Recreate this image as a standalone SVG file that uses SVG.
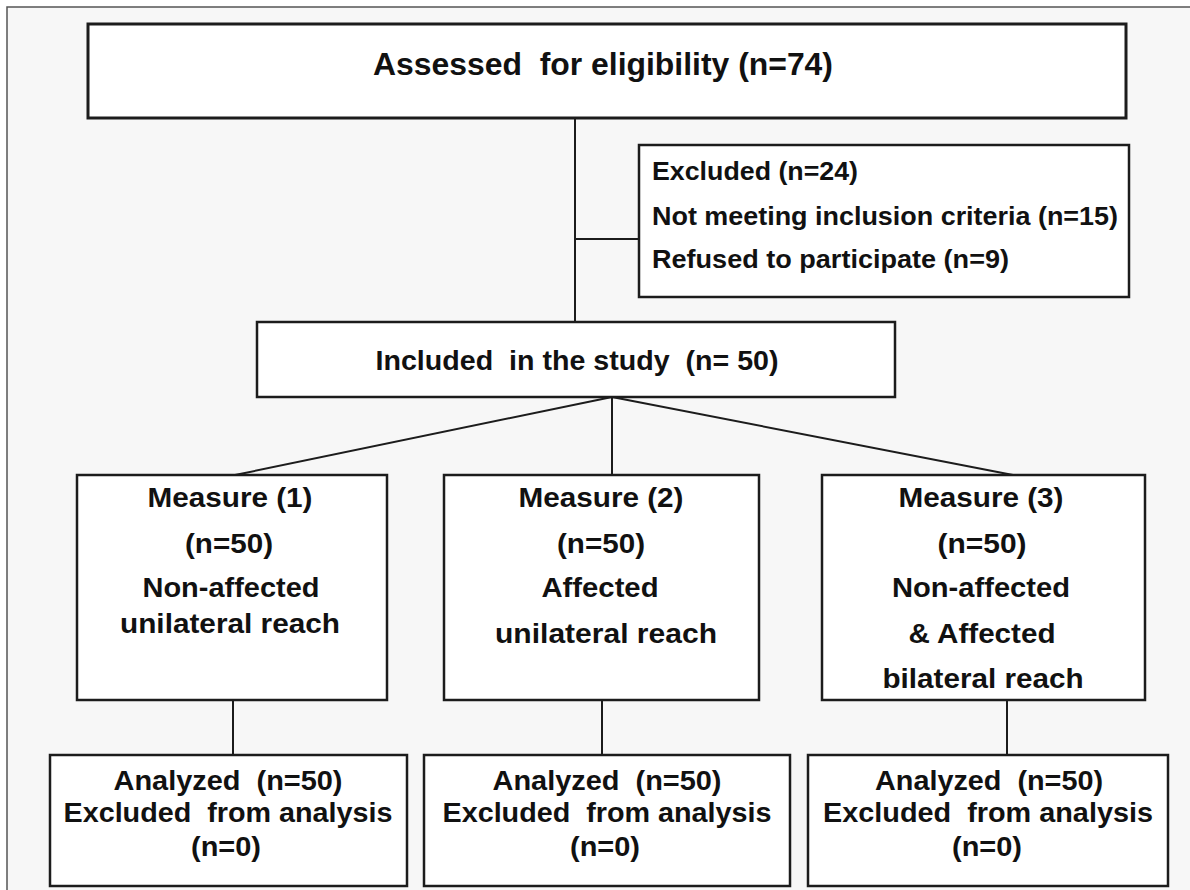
<svg xmlns="http://www.w3.org/2000/svg" width="1190" height="890" viewBox="0 0 1190 890">
<style>
.box{fill:#ffffff;stroke:#1c1c1c;stroke-width:2.5}
.thick{stroke-width:3}
.con{stroke:#1c1c1c;stroke-width:2;fill:none}
text{font-family:"Liberation Sans",Arial,sans-serif;font-weight:bold;fill:#111111;white-space:pre}
.t28{font-size:28px}
.t25{font-size:25px}
.t31{font-size:31px}
.m{text-anchor:middle}
</style>
<rect x="0" y="0" width="1190" height="890" fill="#ffffff"/>
<rect x="7" y="7" width="1183" height="883" fill="#f7f7f7"/>
<path d="M7 890 V7 H1190" stroke="#555555" stroke-width="1.5" fill="none"/>

<g id="connectors">
<line class="con" x1="575" y1="118" x2="575" y2="322"/>
<line class="con" x1="575" y1="239" x2="639" y2="239"/>
<line class="con" x1="612" y1="397" x2="235" y2="475"/>
<line class="con" x1="612" y1="397" x2="612" y2="475"/>
<line class="con" x1="612" y1="397" x2="1013" y2="475"/>
<line class="con" x1="233" y1="700" x2="233" y2="755"/>
<line class="con" x1="602" y1="700" x2="602" y2="755"/>
<line class="con" x1="1007" y1="700" x2="1007" y2="755"/>
</g>

<g id="assessed">
<rect class="box thick" x="88" y="24" width="1038" height="94"/>
<text class="t31 m" x="603" y="75" textLength="460" lengthAdjust="spacingAndGlyphs">Assessed  for eligibility (n=74)</text>
</g>

<g id="excluded">
<rect class="box" x="639" y="145" width="490" height="152"/>
<text class="t25" x="652" y="180" textLength="206" lengthAdjust="spacingAndGlyphs">Excluded (n=24)</text>
<text class="t25" x="652" y="225" textLength="466" lengthAdjust="spacingAndGlyphs">Not meeting inclusion criteria (n=15)</text>
<text class="t25" x="652" y="268" textLength="357" lengthAdjust="spacingAndGlyphs">Refused to participate (n=9)</text>
</g>

<g id="included">
<rect class="box" x="257" y="322" width="638" height="75"/>
<text class="t28 m" x="577" y="370" textLength="403" lengthAdjust="spacingAndGlyphs">Included  in the study  (n= 50)</text>
</g>

<g id="measure1">
<rect class="box" x="77" y="475" width="310" height="225"/>
<text class="t28 m" x="230" y="507" textLength="165" lengthAdjust="spacingAndGlyphs">Measure (1)</text>
<text class="t28 m" x="229" y="553" textLength="88" lengthAdjust="spacingAndGlyphs">(n=50)</text>
<text class="t28 m" x="231" y="597" textLength="177" lengthAdjust="spacingAndGlyphs">Non-affected</text>
<text class="t28 m" x="230" y="633" textLength="220" lengthAdjust="spacingAndGlyphs">unilateral reach</text>
</g>

<g id="measure2">
<rect class="box" x="444" y="475" width="315" height="225"/>
<text class="t28 m" x="601" y="507" textLength="165" lengthAdjust="spacingAndGlyphs">Measure (2)</text>
<text class="t28 m" x="601" y="553" textLength="88" lengthAdjust="spacingAndGlyphs">(n=50)</text>
<text class="t28 m" x="600" y="597" textLength="117" lengthAdjust="spacingAndGlyphs">Affected</text>
<text class="t28 m" x="606" y="643" textLength="222" lengthAdjust="spacingAndGlyphs">unilateral reach</text>
</g>

<g id="measure3">
<rect class="box" x="822" y="475" width="323" height="225"/>
<text class="t28 m" x="981" y="507" textLength="165" lengthAdjust="spacingAndGlyphs">Measure (3)</text>
<text class="t28 m" x="982" y="553" textLength="89" lengthAdjust="spacingAndGlyphs">(n=50)</text>
<text class="t28 m" x="981" y="597" textLength="178" lengthAdjust="spacingAndGlyphs">Non-affected</text>
<text class="t28 m" x="982" y="643" textLength="147" lengthAdjust="spacingAndGlyphs">&amp; Affected</text>
<text class="t28 m" x="983" y="688" textLength="201" lengthAdjust="spacingAndGlyphs">bilateral reach</text>
</g>

<g id="analyzed1">
<rect class="box" x="50" y="755" width="357" height="131"/>
<text class="t28 m" x="228" y="790" textLength="229" lengthAdjust="spacingAndGlyphs">Analyzed  (n=50)</text>
<text class="t28 m" x="228" y="822" textLength="329" lengthAdjust="spacingAndGlyphs">Excluded  from analysis</text>
<text class="t28 m" x="226" y="856" textLength="70" lengthAdjust="spacingAndGlyphs">(n=0)</text>
</g>

<g id="analyzed2">
<rect class="box" x="424" y="755" width="366" height="131"/>
<text class="t28 m" x="607" y="790" textLength="229" lengthAdjust="spacingAndGlyphs">Analyzed  (n=50)</text>
<text class="t28 m" x="607" y="822" textLength="329" lengthAdjust="spacingAndGlyphs">Excluded  from analysis</text>
<text class="t28 m" x="605" y="856" textLength="70" lengthAdjust="spacingAndGlyphs">(n=0)</text>
</g>

<g id="analyzed3">
<rect class="box" x="808" y="755" width="360" height="131"/>
<text class="t28 m" x="989" y="790" textLength="228" lengthAdjust="spacingAndGlyphs">Analyzed  (n=50)</text>
<text class="t28 m" x="988" y="822" textLength="330" lengthAdjust="spacingAndGlyphs">Excluded  from analysis</text>
<text class="t28 m" x="987" y="856" textLength="70" lengthAdjust="spacingAndGlyphs">(n=0)</text>
</g>
</svg>
